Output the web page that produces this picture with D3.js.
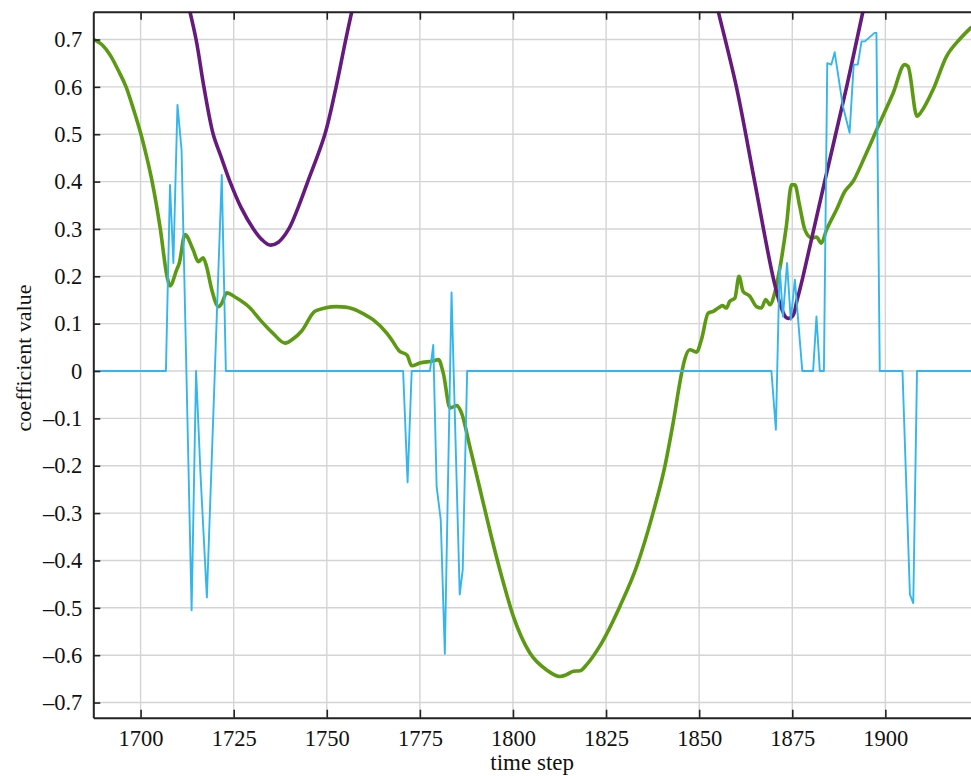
<!DOCTYPE html>
<html>
<head>
<meta charset="utf-8">
<script src="https://cdn.jsdelivr.net/npm/d3@7"></script>
<style>
  html, body { margin: 0; padding: 0; background: #fff; }
  svg { display: block; }
  svg text { font-family: "Liberation Serif", "DejaVu Serif", serif !important; fill: #111; }
</style>
</head>
<body>
<svg id="chart" width="971" height="776"></svg>
<script>
// ---- data -------------------------------------------------------------
const xTicks = [1700, 1725, 1750, 1775, 1800, 1825, 1850, 1875, 1900];
const yTicks = [-0.7, -0.6, -0.5, -0.4, -0.3, -0.2, -0.1, 0, 0.1, 0.2, 0.3, 0.4, 0.5, 0.6, 0.7];

// purple coefficient (two arcs; null marks the stretch above the axis)
const purpleT = [1712.3, 1714.9, 1717.0, 1719.5, 1721.5, 1724.0, 1727.0, 1730.3, 1732.5, 1734.7,
                 1737.0, 1739.8, 1742.3, 1744.9, 1749.5, 1752.5, 1755.1, 1757.3,
                 1800,
                 1854.5, 1855.1, 1860.0, 1864.9, 1869.8, 1872.0, 1873.5, 1875.0, 1876.3,
                 1877.9, 1883.7, 1889.6, 1894.0, 1894.6];
const purpleV = [0.79, 0.70, 0.60, 0.50, 0.455, 0.40, 0.345, 0.30, 0.278, 0.266,
                 0.272, 0.30, 0.345, 0.40, 0.50, 0.60, 0.70, 0.78,
                 null,
                 0.78, 0.76, 0.60, 0.40, 0.20, 0.135, 0.112, 0.115, 0.15,
                 0.20, 0.40, 0.60, 0.76, 0.78];

// green coefficient
const greenT = [1687.3, 1689.5, 1692.0, 1694.0, 1696.1, 1698.2, 1700.1, 1701.7, 1703.1, 1705.3,
                1707.1, 1707.9,
                1709.7, 1710.4, 1711.9, 1714.1, 1715.5, 1716.8, 1717.7, 1719.1, 1720.9, 1721.8,
                1723.1, 1725.8, 1729.4, 1732.1, 1735.5, 1738.8, 1741.0, 1743.2, 1746.8, 1749.5,
                1752.6, 1755.0, 1757.1, 1760.0, 1762.5, 1766.1, 1767.5, 1769.4, 1771.6, 1772.8,
                1775.0, 1778.4, 1780.0, 1781.3, 1783.1, 1784.9, 1786.2, 1788.4, 1791.1, 1794.2,
                1797.0, 1800.1, 1804.5, 1809.0, 1812.6, 1814.4, 1816.2, 1818.0, 1819.8, 1823.3,
                1828.7, 1833.2, 1837.6, 1840.8, 1843.0, 1845.3, 1846.1, 1847.5, 1849.3, 1850.6,
                1852.4, 1853.8, 1855.1, 1856.3, 1857.3, 1858.2, 1859.6, 1860.7, 1861.8, 1863.6,
                1865.4, 1866.7, 1867.9, 1869.0, 1870.3, 1871.6, 1873.4, 1874.8, 1875.7, 1877.0,
                1878.4, 1880.2, 1881.5, 1882.8, 1884.2, 1886.9, 1889.1, 1891.3, 1894.5, 1898.5,
                1902.1, 1905.2, 1906.1, 1908.5, 1909.7, 1912.8, 1916.4, 1919.9, 1923.0];
const greenV = [0.700, 0.690, 0.665, 0.635, 0.600, 0.550, 0.500, 0.450, 0.400, 0.300,
                0.200, 0.180,
                0.214, 0.228, 0.288, 0.256, 0.231, 0.239, 0.221, 0.172, 0.136, 0.143,
                0.165, 0.154, 0.133, 0.108, 0.080, 0.059, 0.068, 0.084, 0.126, 0.133,
                0.136, 0.135, 0.131, 0.120, 0.108, 0.080, 0.065, 0.043, 0.033, 0.011,
                0.017, 0.021, 0.024, -0.005, -0.078, -0.073, -0.089, -0.159, -0.248, -0.350,
                -0.435, -0.518, -0.595, -0.631, -0.645, -0.641, -0.634, -0.633, -0.620, -0.581,
                -0.497, -0.413, -0.300, -0.201, -0.110, -0.004, 0.024, 0.045, 0.040, 0.066,
                0.122, 0.126, 0.133, 0.138, 0.133, 0.147, 0.154, 0.200, 0.168, 0.158,
                0.136, 0.133, 0.151, 0.140, 0.165, 0.214, 0.305, 0.393, 0.393, 0.348,
                0.298, 0.281, 0.283, 0.270, 0.298, 0.341, 0.379, 0.400, 0.453, 0.524,
                0.587, 0.647, 0.643, 0.538, 0.548, 0.594, 0.664, 0.700, 0.725];

// cyan coefficient
const cyanT = [1687.3, 1706.8, 1707.9, 1708.8, 1709.9, 1711.0, 1713.7, 1714.9, 1716.1, 1717.8,
               1721.8, 1722.9, 1770.5, 1771.7, 1772.8, 1777.7, 1778.6, 1779.5, 1780.6, 1781.7,
               1783.5, 1785.7, 1786.5, 1787.7, 1869.4, 1870.6, 1871.6, 1872.5, 1873.6, 1874.6,
               1875.7, 1877.7, 1880.6, 1881.5, 1882.4, 1883.5, 1884.4, 1885.5, 1886.4, 1888.6,
               1890.4, 1891.5, 1892.6, 1893.6, 1894.5, 1895.8, 1897.1, 1897.6, 1898.5, 1904.6,
               1906.6, 1907.5, 1908.5, 1923.0];
const cyanV = [0, 0, 0.393, 0.228, 0.562, 0.467, -0.505, 0.0, -0.22, -0.478,
               0.414, 0, 0, -0.235, 0, 0, 0.055, -0.244, -0.314, -0.597,
               0.166, -0.472, -0.42, 0, 0, -0.124, 0.221, 0.115, 0.228, 0.108,
               0.193, 0, 0, 0.115, 0, 0, 0.650, 0.647, 0.673, 0.559,
               0.503, 0.647, 0.647, 0.696, 0.696, 0.705, 0.714, 0.714, 0, 0,
               -0.472, -0.49, 0, 0];

// ---- layout -----------------------------------------------------------
const plot = { left: 93.3, right: 971, top: 11.7, bottom: 717.7 };
const svg = d3.select("#chart");

const x = d3.scaleLinear().domain([1687.3, 1923]).range([plot.left, plot.right]);
const y = d3.scaleLinear().domain([-0.732, 0.7587]).range([plot.bottom, plot.top]);

svg.append("defs").append("clipPath").attr("id", "plotClip")
  .append("rect")
  .attr("x", plot.left).attr("y", plot.top)
  .attr("width", plot.right - plot.left).attr("height", plot.bottom - plot.top);

// grid
const grid = svg.append("g").attr("stroke", "#d4d4d4").attr("stroke-width", 1.4);
grid.selectAll("line.v").data(xTicks).join("line")
  .attr("x1", d => x(d)).attr("x2", d => x(d))
  .attr("y1", plot.top).attr("y2", plot.bottom);
grid.selectAll("line.h").data(yTicks).join("line")
  .attr("x1", plot.left).attr("x2", plot.right)
  .attr("y1", d => y(d)).attr("y2", d => y(d));

// series
const zip = (ts, vs) => ts.map((t, i) => ({ t, v: vs[i] }));
const lines = svg.append("g").attr("clip-path", "url(#plotClip)")
  .attr("fill", "none").attr("stroke-linejoin", "round").attr("stroke-linecap", "round");

lines.append("path")
  .datum(zip(greenT, greenV))
  .attr("stroke", "#5b9a12").attr("stroke-width", 3.6)
  .attr("d", d3.line().x(d => x(d.t)).y(d => y(d.v)).curve(d3.curveMonotoneX));

lines.append("path")
  .datum(zip(purpleT, purpleV))
  .attr("stroke", "#661a7d").attr("stroke-width", 3.6)
  .attr("d", d3.line().defined(d => d.v !== null)
    .x(d => x(d.t)).y(d => y(d.v)).curve(d3.curveCatmullRom));

lines.append("path")
  .datum(zip(cyanT, cyanV))
  .attr("stroke", "#33b6ec").attr("stroke-width", 1.9)
  .attr("d", d3.line().x(d => x(d.t)).y(d => y(d.v)));

// axes (ticks point into the plot)
const fmtY = v => v === 0 ? "0" : (v < 0 ? "\u2013" + Math.abs(v).toFixed(1) : v.toFixed(1));

const xAxis = svg.append("g").attr("transform", `translate(0,${plot.bottom})`)
  .call(d3.axisBottom(x).tickValues(xTicks).tickSizeInner(-8).tickSizeOuter(0)
    .tickPadding(12).tickFormat(d3.format("d")));
const xTop = svg.append("g").attr("transform", `translate(0,${plot.top})`)
  .call(d3.axisTop(x).tickValues(xTicks).tickSizeInner(-8).tickSizeOuter(0).tickFormat(""));
const yAxis = svg.append("g").attr("transform", `translate(${plot.left},0)`)
  .call(d3.axisLeft(y).tickValues(yTicks).tickSizeInner(-7).tickSizeOuter(0)
    .tickPadding(11).tickFormat(fmtY));

[xAxis, xTop, yAxis].forEach(g => {
  g.attr("font-family", null).attr("font-size", null);
  g.select(".domain").attr("stroke", "#222").attr("stroke-width", 2);
  g.selectAll(".tick line").attr("stroke", "#222").attr("stroke-width", 1.6);
  g.selectAll(".tick text")
    .style("font-family", "'Liberation Serif', 'DejaVu Serif', serif")
    .style("font-size", "22.5px").attr("fill", "#111");
});
xAxis.selectAll(".tick text").attr("dy", "0.71em");

// axis titles
svg.append("text")
  .attr("x", (plot.left + plot.right) / 2).attr("y", 770)
  .attr("text-anchor", "middle").style("font-size", "23px")
  .text("time step");

svg.append("text")
  .attr("transform", "translate(31,358) rotate(-90)")
  .attr("text-anchor", "middle").style("font-size", "22px")
  .text("coefficient value");
</script>
</body>
</html>
